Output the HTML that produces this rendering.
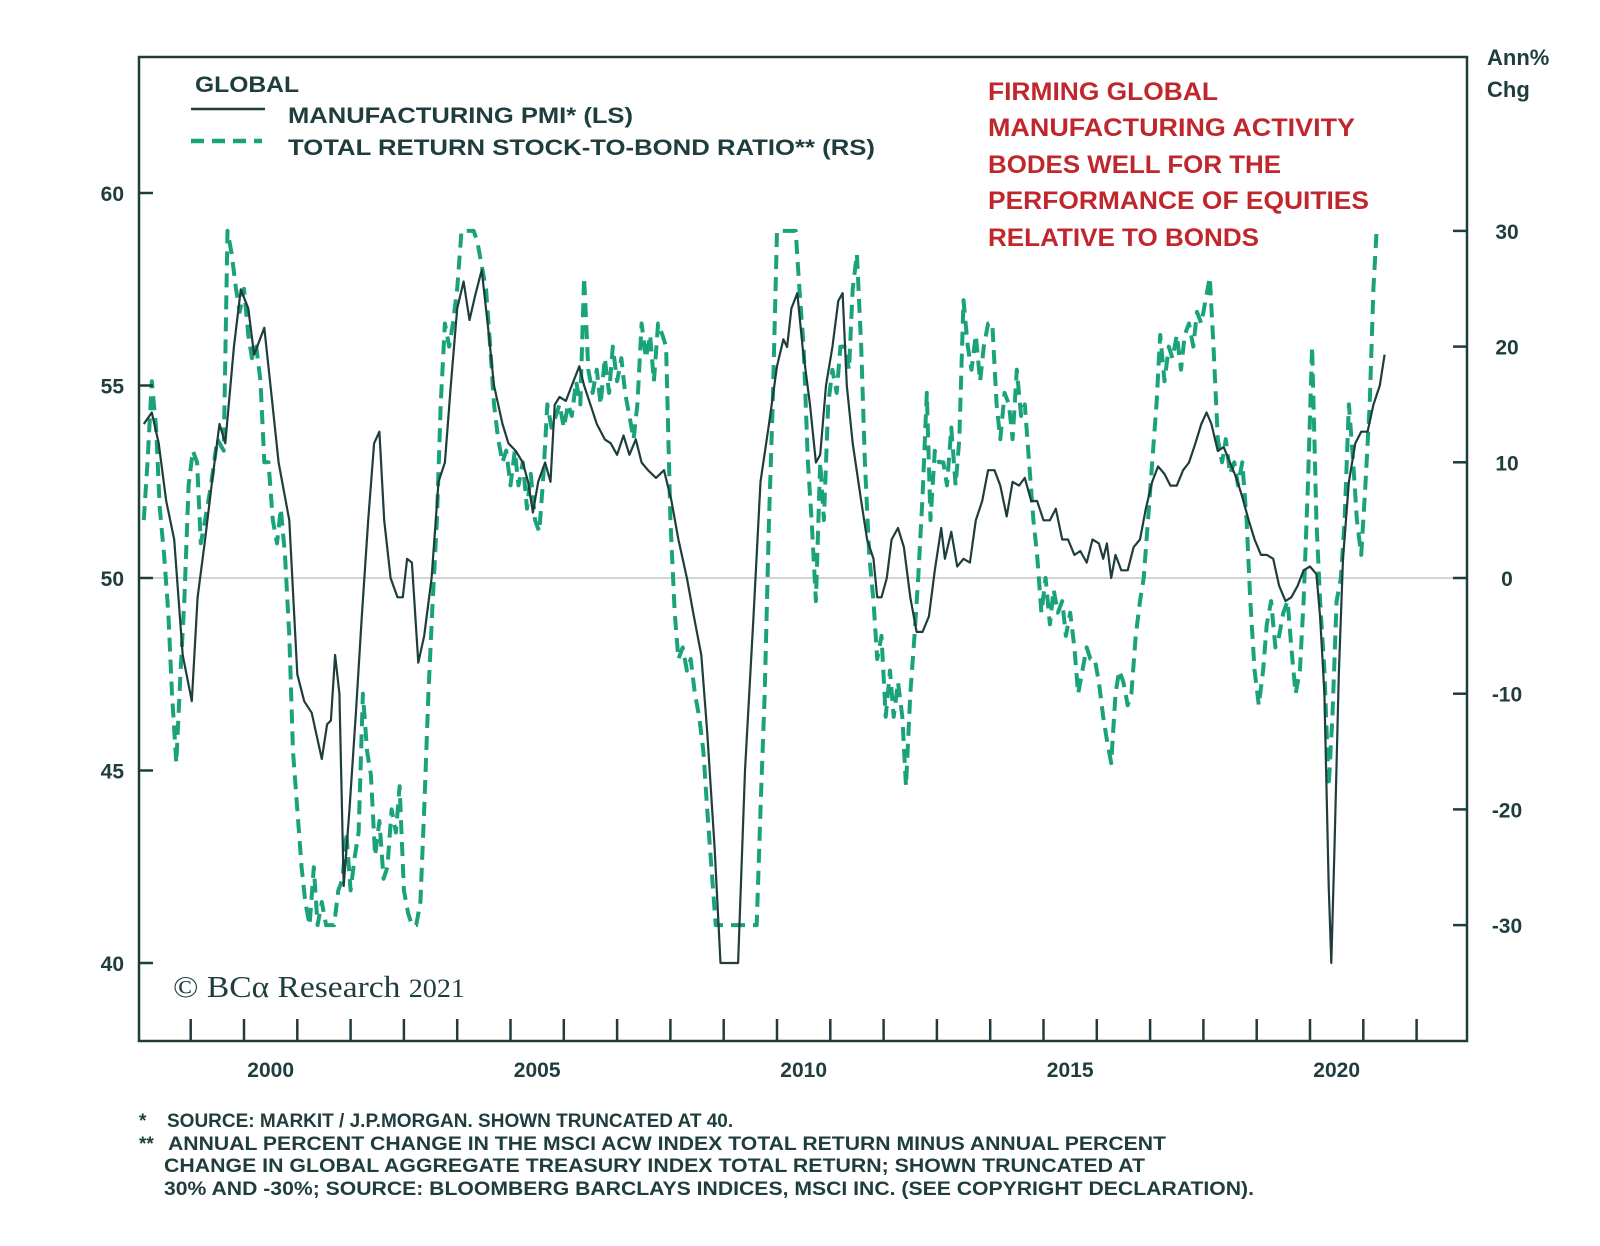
<!DOCTYPE html>
<html><head><meta charset="utf-8"><style>
html,body{margin:0;padding:0;background:#fff;}
svg{display:block;font-family:"Liberation Sans",sans-serif;}
</style></head><body>
<svg id="chart" width="1600" height="1246" viewBox="0 0 1600 1246" xmlns="http://www.w3.org/2000/svg">
<g id="grid"></g>
<g id="series"></g>
<g id="axes"></g>
<g font-weight="bold" fill="#1f3d3d" font-size="22">
  <text x="195" y="92" textLength="104" lengthAdjust="spacingAndGlyphs">GLOBAL</text>
  <line x1="191" y1="109" x2="265" y2="109" stroke="#1f3d3d" stroke-width="2.5"/>
  <text x="288" y="123" textLength="345" lengthAdjust="spacingAndGlyphs">MANUFACTURING PMI* (LS)</text>
  <line x1="191" y1="141" x2="262" y2="141" stroke="#1aa37a" stroke-width="4.5" stroke-dasharray="13,8"/>
  <text x="288" y="155" textLength="587" lengthAdjust="spacingAndGlyphs">TOTAL RETURN STOCK-TO-BOND RATIO** (RS)</text>
</g>
<g fill="#c0272d" font-size="25" font-weight="600" lengthAdjust="spacingAndGlyphs">
  <text x="988" y="100" textLength="230" lengthAdjust="spacingAndGlyphs">FIRMING GLOBAL</text>
  <text x="988" y="136" textLength="367" lengthAdjust="spacingAndGlyphs">MANUFACTURING ACTIVITY</text>
  <text x="988" y="173" textLength="293" lengthAdjust="spacingAndGlyphs">BODES WELL FOR THE</text>
  <text x="988" y="209" textLength="381" lengthAdjust="spacingAndGlyphs">PERFORMANCE OF EQUITIES</text>
  <text x="988" y="246" textLength="271" lengthAdjust="spacingAndGlyphs">RELATIVE TO BONDS</text>
</g>
<g fill="#1f3d3d" font-size="22" font-weight="bold">
  <text x="1487" y="65">Ann%</text>
  <text x="1487" y="97">Chg</text>
</g>
<text x="173" y="997" font-family="'Liberation Serif',serif" font-size="31" fill="#1f3d3d" textLength="292" lengthAdjust="spacingAndGlyphs">© BCα Research <tspan font-size="26">2021</tspan></text>
<g fill="#1f3d3d" font-size="19" font-weight="bold">
  <text x="139" y="1127">*</text>
  <text x="167" y="1127">SOURCE: MARKIT / J.P.MORGAN. SHOWN TRUNCATED AT 40.</text>
  <text x="139" y="1150">**</text>
  <text x="168" y="1150" textLength="998" lengthAdjust="spacingAndGlyphs">ANNUAL PERCENT CHANGE IN THE MSCI ACW INDEX TOTAL RETURN MINUS ANNUAL PERCENT</text>
  <text x="164" y="1172" textLength="981" lengthAdjust="spacingAndGlyphs">CHANGE IN GLOBAL AGGREGATE TREASURY INDEX TOTAL RETURN; SHOWN TRUNCATED AT</text>
  <text x="164" y="1195" textLength="1090" lengthAdjust="spacingAndGlyphs">30% AND -30%; SOURCE: BLOOMBERG BARCLAYS INDICES, MSCI INC. (SEE COPYRIGHT DECLARATION).</text>
</g>
</svg>
<script>
const leftTicks = [40, 45, 50, 55, 60];
const rightTicks = [-30, -20, -10, 0, 10, 20, 30];
const yearTicks = [1999,2000,2001,2002,2003,2004,2005,2006,2007,2008,2009,2010,2011,2012,2013,2014,2015,2016,2017,2018,2019,2020,2021,2022];
const yearLabels = [2000, 2005, 2010, 2015, 2020];
const pmiData = [
[1998.12,54],[1998.27,54.3],[1998.40,53.5],[1998.54,52],[1998.69,51],[1998.85,48],[1999.02,46.8],[1999.13,49.5],[1999.27,51],[1999.40,52.5],[1999.54,54],[1999.65,53.5],[1999.81,56],[1999.94,57.5],[2000.08,57],[2000.19,55.8],[2000.38,56.5],[2000.52,54.7],[2000.65,53],[2000.85,51.5],[2001.00,47.5],[2001.13,46.8],[2001.27,46.5],[2001.46,45.3],[2001.56,46.2],[2001.63,46.3],[2001.71,48],[2001.79,47],[2001.87,42],[2001.98,44],[2002.10,46.5],[2002.21,49],[2002.33,51.5],[2002.44,53.5],[2002.54,53.8],[2002.63,51.5],[2002.75,50],[2002.88,49.5],[2002.98,49.5],[2003.06,50.5],[2003.15,50.4],[2003.27,47.8],[2003.38,48.5],[2003.52,50],[2003.65,52.5],[2003.77,53],[2003.88,55],[2004.00,57],[2004.12,57.7],[2004.23,56.7],[2004.33,57.3],[2004.46,58],[2004.58,56.5],[2004.69,55],[2004.85,54],[2004.96,53.5],[2005.10,53.3],[2005.23,53],[2005.33,52.5],[2005.42,51.7],[2005.52,52.5],[2005.65,53],[2005.75,52.5],[2005.83,54.5],[2005.92,54.7],[2006.04,54.6],[2006.15,55],[2006.29,55.5],[2006.38,55],[2006.50,54.5],[2006.62,54],[2006.77,53.6],[2006.88,53.5],[2007.00,53.2],[2007.12,53.7],[2007.23,53.2],[2007.35,53.6],[2007.46,53],[2007.58,52.8],[2007.73,52.6],[2007.88,52.8],[2008.02,52],[2008.15,51],[2008.31,50],[2008.44,49],[2008.58,48],[2008.69,46],[2008.83,43],[2008.94,40],[2009.27,40],[2009.40,45],[2009.56,49],[2009.69,52.5],[2009.85,54],[2010.00,55.5],[2010.12,56.2],[2010.19,56],[2010.27,57],[2010.38,57.4],[2010.48,56],[2010.62,54.5],[2010.73,53],[2010.81,53.2],[2010.92,55],[2011.04,56],[2011.15,57.2],[2011.23,57.4],[2011.31,55],[2011.42,53.5],[2011.58,52],[2011.69,51],[2011.81,50.5],[2011.88,49.5],[2011.96,49.5],[2012.06,50],[2012.15,51],[2012.27,51.3],[2012.38,50.8],[2012.50,49.5],[2012.62,48.6],[2012.73,48.6],[2012.85,49],[2012.96,50.2],[2013.08,51.3],[2013.15,50.5],[2013.27,51.2],[2013.38,50.3],[2013.50,50.5],[2013.62,50.4],[2013.73,51.5],[2013.85,52],[2013.96,52.8],[2014.08,52.8],[2014.19,52.4],[2014.31,51.6],[2014.42,52.5],[2014.54,52.4],[2014.65,52.6],[2014.77,52],[2014.88,52],[2015.00,51.5],[2015.12,51.5],[2015.23,51.8],[2015.35,51],[2015.46,51],[2015.58,50.6],[2015.69,50.7],[2015.81,50.4],[2015.92,51],[2016.04,50.9],[2016.12,50.5],[2016.19,50.9],[2016.27,50],[2016.35,50.6],[2016.46,50.2],[2016.58,50.2],[2016.69,50.8],[2016.81,51],[2016.92,51.8],[2017.04,52.5],[2017.15,52.9],[2017.27,52.7],[2017.38,52.4],[2017.50,52.4],[2017.62,52.8],[2017.73,53],[2017.85,53.5],[2017.96,54],[2018.06,54.3],[2018.15,54],[2018.27,53.3],[2018.38,53.4],[2018.50,53],[2018.62,52.6],[2018.73,52.1],[2018.85,51.5],[2018.96,51],[2019.08,50.6],[2019.19,50.6],[2019.31,50.5],[2019.42,49.8],[2019.54,49.4],[2019.65,49.5],[2019.77,49.8],[2019.88,50.2],[2020.00,50.3],[2020.12,50.1],[2020.19,49],[2020.27,47],[2020.35,42],[2020.40,40],[2020.46,43],[2020.54,47.5],[2020.62,50.5],[2020.73,52.5],[2020.85,53.5],[2020.96,53.8],[2021.08,53.8],[2021.19,54.5],[2021.31,55],[2021.40,55.8]
];
const ratioData = [
[1998.12,5],[1998.19,10],[1998.27,17],[1998.35,13],[1998.42,6],[1998.50,2],[1998.58,-3],[1998.65,-10],[1998.73,-16],[1998.81,-8],[1998.88,-2],[1998.96,8],[1999.04,11],[1999.12,10],[1999.19,3],[1999.27,5],[1999.38,8],[1999.50,12],[1999.62,11],[1999.69,30],[1999.77,28],[1999.85,25],[1999.92,23],[2000.00,25],[2000.08,21],[2000.15,19],[2000.23,20],[2000.31,17],[2000.38,10],[2000.46,10],[2000.54,5],[2000.62,3],[2000.69,6],[2000.77,2],[2000.85,-5],[2000.92,-15],[2001.00,-20],[2001.08,-25],[2001.15,-28],[2001.23,-30],[2001.31,-25],[2001.38,-30],[2001.46,-28],[2001.54,-30],[2001.62,-30],[2001.69,-30],[2001.77,-27],[2001.85,-26],[2001.92,-22],[2002.00,-27],[2002.08,-24],[2002.15,-22],[2002.23,-10],[2002.31,-15],[2002.38,-17],[2002.46,-24],[2002.54,-21],[2002.62,-26],[2002.69,-25],[2002.77,-20],[2002.85,-22],[2002.92,-18],[2003.00,-27],[2003.08,-29],[2003.15,-30],[2003.23,-30],[2003.31,-28],[2003.38,-20],[2003.46,-10],[2003.54,-2],[2003.62,5],[2003.69,15],[2003.77,22],[2003.85,20],[2003.92,22],[2004.00,25],[2004.08,30],[2004.19,30],[2004.31,30],[2004.38,29],[2004.46,27],[2004.54,25],[2004.62,20],[2004.69,15],[2004.77,12],[2004.85,10],[2004.92,11],[2005.00,8],[2005.08,11],[2005.15,8],[2005.23,10],[2005.31,6],[2005.38,9],[2005.46,5],[2005.54,4],[2005.62,9],[2005.69,15],[2005.77,13],[2005.85,14],[2005.92,15],[2006.00,13],[2006.08,15],[2006.15,14],[2006.23,17],[2006.31,15],[2006.38,26],[2006.46,18],[2006.54,16],[2006.62,18],[2006.69,15],[2006.77,19],[2006.85,16],[2006.92,20],[2007.00,17],[2007.08,19],[2007.15,16],[2007.23,14],[2007.31,12],[2007.38,15],[2007.46,22],[2007.54,19],[2007.62,21],[2007.69,17],[2007.77,22],[2007.85,21],[2007.92,20],[2008.00,5],[2008.08,-3],[2008.15,-7],[2008.23,-6],[2008.31,-8],[2008.38,-7],[2008.46,-10],[2008.54,-12],[2008.62,-15],[2008.69,-20],[2008.77,-25],[2008.85,-30],[2009.62,-30],[2009.69,-20],[2009.77,-10],[2009.85,5],[2009.92,15],[2010.00,30],[2010.35,30],[2010.42,25],[2010.50,20],[2010.58,10],[2010.65,5],[2010.73,-2],[2010.81,10],[2010.88,5],[2010.96,15],[2011.04,18],[2011.12,16],[2011.19,20],[2011.27,20],[2011.35,18],[2011.42,25],[2011.50,28],[2011.58,20],[2011.65,10],[2011.73,2],[2011.81,-2],[2011.88,-7],[2011.96,-5],[2012.04,-12],[2012.12,-8],[2012.19,-12],[2012.27,-9],[2012.35,-12],[2012.42,-18],[2012.50,-10],[2012.58,-5],[2012.65,0],[2012.73,7],[2012.81,16],[2012.88,5],[2012.96,11],[2013.04,10],[2013.12,10],[2013.19,8],[2013.27,13],[2013.35,8],[2013.42,12],[2013.50,24],[2013.58,20],[2013.65,18],[2013.73,21],[2013.81,17],[2013.88,20],[2013.96,22],[2014.04,22],[2014.12,15],[2014.19,12],[2014.27,16],[2014.35,15],[2014.42,12],[2014.50,18],[2014.58,14],[2014.65,15],[2014.73,10],[2014.81,5],[2014.88,2],[2014.96,-3],[2015.04,0],[2015.12,-4],[2015.19,-1],[2015.27,-3],[2015.35,-2],[2015.42,-5],[2015.50,-3],[2015.58,-6],[2015.65,-10],[2015.73,-8],[2015.81,-6],[2015.88,-7],[2015.96,-7],[2016.04,-9],[2016.12,-12],[2016.19,-14],[2016.27,-16],[2016.35,-10],[2016.42,-8],[2016.50,-9],[2016.58,-11],[2016.65,-10],[2016.73,-5],[2016.81,-2],[2016.88,0],[2016.96,5],[2017.04,10],[2017.12,15],[2017.19,21],[2017.27,17],[2017.35,20],[2017.42,19],[2017.50,21],[2017.58,18],[2017.65,21],[2017.73,22],[2017.81,20],[2017.88,23],[2017.96,22],[2018.04,24],[2018.12,26],[2018.19,20],[2018.27,12],[2018.35,10],[2018.42,12],[2018.50,9],[2018.58,10],[2018.65,8],[2018.73,10],[2018.81,5],[2018.88,-2],[2018.96,-8],[2019.04,-11],[2019.12,-8],[2019.19,-4],[2019.27,-2],[2019.35,-6],[2019.42,-5],[2019.50,-3],[2019.58,-2],[2019.65,-6],[2019.73,-10],[2019.81,-8],[2019.88,-2],[2019.96,8],[2020.04,20],[2020.12,5],[2020.19,-2],[2020.27,-8],[2020.35,-18],[2020.42,-12],[2020.50,-2],[2020.58,0],[2020.65,5],[2020.73,15],[2020.81,10],[2020.88,5],[2020.96,2],[2021.04,8],[2021.12,15],[2021.19,25],[2021.25,30]
];

const NS = "http://www.w3.org/2000/svg";
const L = 139, R = 1467, T = 57, B = 1041;
const xOf = y => 244 + (y - 2000) * 53.3;
const yL = v => 963 - (v - 40) * 38.5;
const yR = v => 578 - v * 11.57;
const INK = "#1f3d3d";
function mk(tag, attrs, parent) {
  const e = document.createElementNS(NS, tag);
  for (const k in attrs) e.setAttribute(k, attrs[k]);
  parent.appendChild(e);
  return e;
}
const grid = document.getElementById('grid');
const axes = document.getElementById('axes');
const series = document.getElementById('series');

const zl = mk('line', {x1: L, x2: R, y1: yR(0), y2: yR(0), stroke: '#b8bcbc', 'stroke-width': 1.2}, grid);



const frame = mk('rect', {x: L, y: T, width: R - L, height: B - T, fill: 'none', stroke: INK, 'stroke-width': 2.5}, axes);



leftTicks.forEach(v => {
  const t = mk('line', {x1: L, x2: L + 14, y1: yL(v), y2: yL(v), stroke: INK, 'stroke-width': 2.5}, axes);
  
  
  const lb = mk('text', {x: 124, y: yL(v) + 8, 'text-anchor': 'end', 'font-size': 21, 'font-weight': 'bold', fill: INK}, axes);
  lb.textContent = v;
  
  
});
rightTicks.forEach(v => {
  const t = mk('line', {x1: R - 14, x2: R, y1: yR(v), y2: yR(v), stroke: INK, 'stroke-width': 2.5}, axes);
  
  
  const lb = mk('text', {x: 1507, y: yR(v) + 8, 'text-anchor': 'middle', 'font-size': 21, 'font-weight': 'bold', fill: INK}, axes);
  lb.textContent = v;
  
  
});
yearTicks.forEach(yr => {
  const t = mk('line', {x1: xOf(yr), x2: xOf(yr), y1: B, y2: B - 22, stroke: INK, 'stroke-width': 2.5}, axes);
  
  
});
yearLabels.forEach(yr => {
  const lb = mk('text', {x: xOf(yr + 0.5), y: 1077, 'text-anchor': 'middle', 'font-size': 21, 'font-weight': 'bold', fill: INK}, axes);
  lb.textContent = yr;
  
  
});

const ratioPath = mk('path', {d: ratioData.map((p, i) => (i ? 'L' : 'M') + xOf(p[0]).toFixed(1) + ',' + yR(p[1]).toFixed(1)).join(''),
  fill: 'none', stroke: '#1aa37a', 'stroke-width': 4, 'stroke-dasharray': '14,8', 'stroke-linejoin': 'round'}, series);



const pmiPath = mk('path', {d: pmiData.map((p, i) => (i ? 'L' : 'M') + xOf(p[0]).toFixed(1) + ',' + yL(p[1]).toFixed(1)).join(''),
  fill: 'none', stroke: INK, 'stroke-width': 2.2, 'stroke-linejoin': 'round'}, series);


</script>
</body></html>
